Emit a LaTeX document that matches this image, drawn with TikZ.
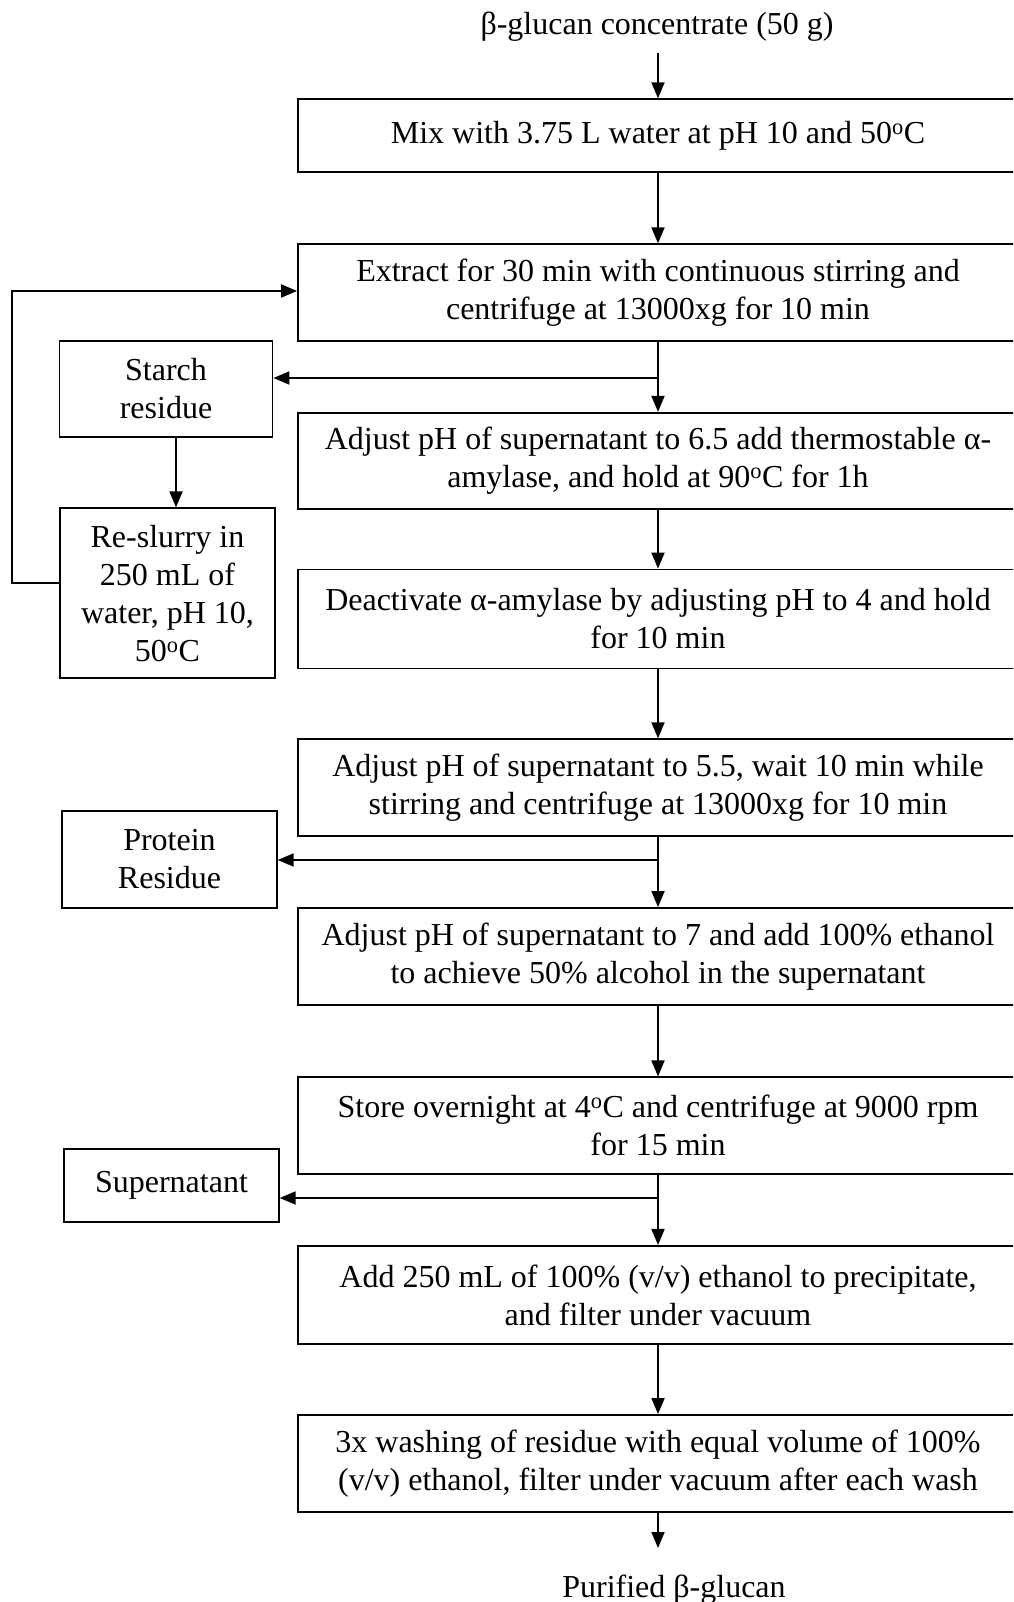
\documentclass[tikz,border=0pt]{standalone}
\usepackage{fontspec}
\setmainfont{Liberation Serif}
\usetikzlibrary{arrows.meta}
\begin{document}
\begin{tikzpicture}[x=1pt,y=-1pt,
  every node/.style={font=\fontsize{32}{38}\selectfont, align=center, inner sep=0pt},
  mainbox/.style={draw, line width=1.8pt, minimum width=720pt},
  sidebox/.style={draw, line width=1.8pt},
  arr/.style={line width=1.8pt, -{Triangle[length=16pt,width=13pt]}},
  ln/.style={line width=1.8pt}]
\useasboundingbox (0,0) rectangle (1013,1602);
\clip (0,0) rectangle (1013,1602);

\node (title) at (657,27) {β-glucan concentrate (50 g)};
\node[mainbox, minimum height=72.5pt] (b1) at (658,135.5) {Mix with 3.75 L water at pH 10 and 50\textsuperscript{o}C};
\node[mainbox, minimum height=96.5pt] (b2) at (658,292.5) {Extract for 30 min with continuous stirring and\\centrifuge at 13000xg for 10 min};
\node[mainbox, minimum height=96.5pt] (b3) at (658,461) {Adjust pH of supernatant to 6.5 add thermostable α-\\amylase, and hold at 90\textsuperscript{o}C for 1h};
\node[mainbox, minimum height=99pt] (b4) at (658,619) {Deactivate α-amylase by adjusting pH to 4 and hold\\for 10 min};
\node[mainbox, minimum height=96.5pt] (b5) at (658,787.5) {Adjust pH of supernatant to 5.5, wait 10 min while\\stirring and centrifuge at 13000xg for 10 min};
\node[mainbox, minimum height=97pt] (b6) at (658,956.5) {Adjust pH of supernatant to 7 and add 100\% ethanol\\to achieve 50\% alcohol in the supernatant};
\node[mainbox, minimum height=96.7pt] (b7) at (658,1125.7) {Store overnight at 4\textsuperscript{o}C and centrifuge at 9000 rpm\\for 15 min};
\node[mainbox, minimum height=98.3pt] (b8) at (658,1295) {Add 250 mL of 100\% (v/v) ethanol to precipitate,\\and filter under vacuum};
\node[mainbox, minimum height=96.7pt] (b9) at (658,1463.3) {3x washing of residue with equal volume of 100\%\\(v/v) ethanol, filter under vacuum after each wash};
\node (final) at (674,1590) {Purified β-glucan};

\node[sidebox, minimum width=213pt, minimum height=96pt] (starch) at (166,388.7) {Starch\\residue};
\node[sidebox, minimum width=214.5pt, minimum height=170pt] (reslurry) at (167.5,593.3) {Re-slurry in\\250 mL of\\water, pH 10,\\50\textsuperscript{o}C};
\node[sidebox, minimum width=214.5pt, minimum height=97pt] (protein) at (169.5,859.5) {Protein\\Residue};
\node[sidebox, minimum width=214.5pt, minimum height=72.5pt] (super) at (171.5,1185.5) {Supernatant};

\coordinate (t0) at (658,53);
\coordinate (j1) at (658,378);
\coordinate (j2) at (658,860);
\coordinate (j3) at (658,1198);
\coordinate (endp) at (658,1548);
\coordinate (sx) at (176,0);
\coordinate (lx) at (12,583);
\coordinate (ly) at (12,291);

\draw[arr] (t0) -- (t0 |- b1.north);
\draw[arr] (b1.south) -- (b2.north);
\draw[ln] (b2.south) -- (j1);
\draw[arr] (j1) -- (b3.north);
\draw[arr] (j1) -- (j1 -| starch.east);
\draw[arr] (b3.south) -- (b4.north);
\draw[arr] (b4.south) -- (b5.north);
\draw[ln] (b5.south) -- (j2);
\draw[arr] (j2) -- (b6.north);
\draw[arr] (j2) -- (j2 -| protein.east);
\draw[arr] (b6.south) -- (b7.north);
\draw[ln] (b7.south) -- (j3);
\draw[arr] (j3) -- (b8.north);
\draw[arr] (j3) -- (j3 -| super.east);
\draw[arr] (b8.south) -- (b9.north);
\draw[arr] (b9.south) -- (endp);
\draw[arr] (starch.south -| sx) -- (reslurry.north -| sx);
\draw[arr] (reslurry.west |- lx) -- (lx) -- (ly) -- (ly -| b2.west);
\end{tikzpicture}
\end{document}
